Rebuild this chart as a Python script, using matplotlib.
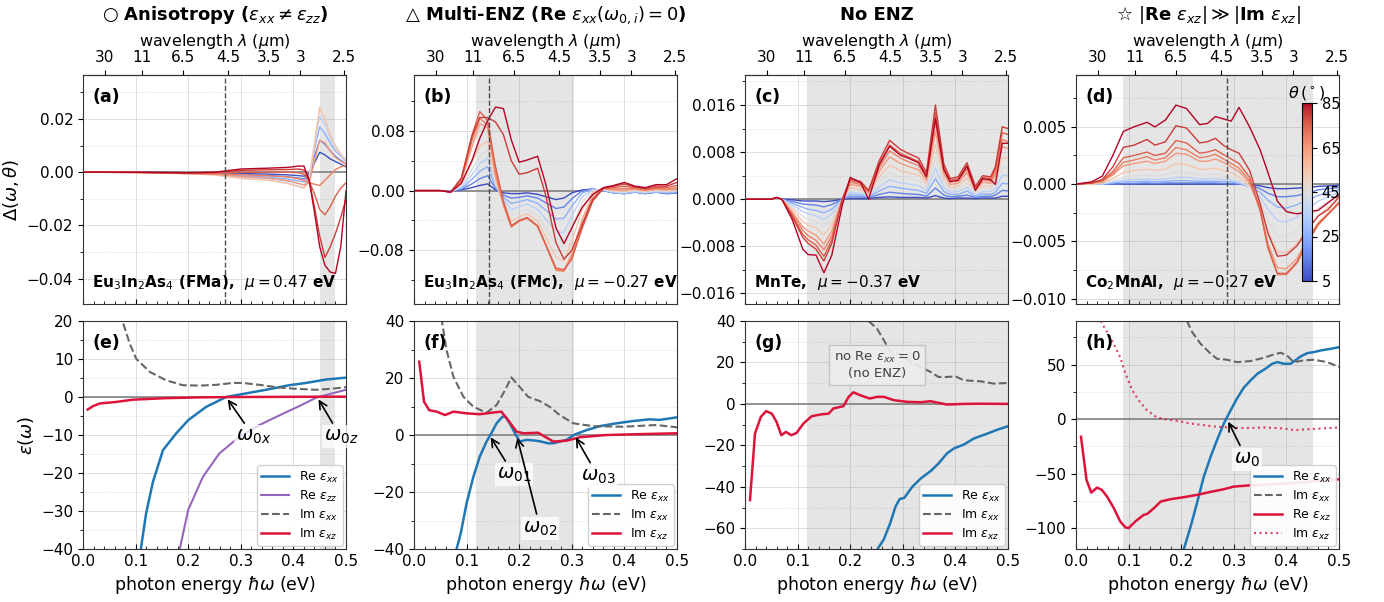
import numpy as np
import matplotlib
matplotlib.use("Agg")
import matplotlib.pyplot as plt
from matplotlib.ticker import AutoMinorLocator
from matplotlib import colors

HC = 1.23984  # eV * um, energy <-> wavelength

# ---------------- data ----------------
theta = [5, 15, 25, 35, 45, 55, 65, 70, 75, 80, 85]
lam_ticks = [30, 11, 6.5, 4.5, 3.5, 3, 2.5]

# Delta(omega, theta) in units of 1e-3, one row per theta
E_a = [0.0, 0.1, 0.2, 0.25, 0.3, 0.35, 0.39, 0.41, 0.42, 0.43, 0.44, 0.45, 0.46, 0.47, 0.48, 0.49, 0.5]
delta_a = [
    [0, 0, -0.2, -0.3, -0.5, -0.7, -1.0, -1.3, -1.5, -0.5, 3.5, 7.5, 6.5, 5.0, 4.0, 3.0, 2.0],
    [0, 0, -0.3, -0.5, -0.9, -1.2, -1.7, -2.2, -2.5, -1.0, 6.0, 12.0, 10.5, 8.0, 6.0, 4.5, 3.0],
    [0, 0, -0.4, -0.7, -1.4, -1.8, -2.6, -3.3, -3.6, -1.5, 8.5, 17.0, 14.5, 11.0, 8.0, 6.0, 4.0],
    [0, -0.1, -0.5, -0.9, -1.9, -2.4, -3.4, -4.3, -4.8, -2.0, 10.0, 21.0, 18.0, 13.0, 9.5, 7.0, 4.5],
    [0, -0.1, -0.6, -1.0, -2.3, -2.9, -4.1, -5.2, -5.8, -2.5, 11.0, 24.0, 20.0, 14.5, 10.0, 7.0, 4.5],
    [0, -0.1, -0.6, -1.0, -2.3, -3.0, -4.3, -5.5, -6.0, -3.5, 10.0, 24.5, 20.0, 14.0, 9.5, 6.5, 4.0],
    [0, -0.1, -0.5, -0.8, -1.6, -2.2, -3.2, -4.2, -4.8, -4.0, 4.0, 12.0, 11.0, 8.0, 5.5, 4.0, 3.0],
    [0, -0.1, -0.5, -0.6, -0.9, -1.3, -1.8, -2.5, -3.0, -4.0, -4.5, -5.0, -3.0, -1.0, 1.0, 2.0, 2.5],
    [0, -0.1, -0.4, -0.3, 0.0, 0.0, 0.0, -0.2, -0.8, -3.5, -8.0, -14.0, -16.0, -13.0, -9.0, -6.0, -4.0],
    [0, 0, -0.3, -0.1, 0.7, 0.9, 1.0, 1.2, 0.8, -3.0, -13.0, -24.0, -32.0, -28.0, -23.0, -17.0, -10.0],
    [0, 0, -0.2, 0.0, 1.2, 1.5, 1.8, 2.3, 2.3, -3.0, -15.0, -28.0, -35.0, -37.5, -38.0, -28.0, -7.0],
]

E_b = [0.0, 0.05, 0.07, 0.09, 0.11, 0.125, 0.14, 0.155, 0.17, 0.185, 0.2, 0.215, 0.235, 0.25,
       0.27, 0.285, 0.3, 0.32, 0.34, 0.36, 0.38, 0.4, 0.42, 0.44, 0.46, 0.48, 0.5]
delta_b = [
    [0, 0, -1, 1, 4, 7, 9, 1, -3, -4, -4, -3, -5, -8, -12, -10, -3, 1, 2, 0, -3, -4, -2, -4, -2, -4, -3],
    [0, 0, -1, 2, 9, 16, 20, 3, -6, -10, -9, -7, -10, -16, -24, -22, -11, 0, 2, 0, -3, -4, -2, -4, -2, -4, -3],
    [0, 0, -1, 3, 15, 26, 32, 5, -9, -17, -15, -12, -17, -26, -38, -37, -21, -3, 2, 0, -3, -4, -2, -3, -2, -3, -2],
    [0, 0, -2, 5, 21, 36, 44, 8, -12, -25, -22, -18, -25, -38, -55, -56, -34, -8, 1, 1, -2, -3, -1, -3, -1, -2, -1],
    [0, 0, -2, 7, 28, 46, 55, 10, -15, -33, -29, -25, -33, -50, -72, -75, -50, -15, 0, 1, -1, -2, 0, -2, 0, -1, 0],
    [0, 0, -2, 9, 38, 60, 66, 14, -18, -41, -35, -31, -41, -61, -89, -94, -68, -25, -2, 2, 0, -1, 1, -1, 1, 0, 1],
    [0, 0, -2, 13, 58, 90, 84, 20, -20, -48, -41, -37, -48, -71, -105, -107, -85, -38, -6, 3, 1, 1, 2, 0, 2, 1, 2],
    [0, 0, -2, 15, 66, 97, 88, 25, -18, -49, -41, -37, -48, -72, -107, -108, -90, -45, -10, 3, 2, 3, 3, 1, 3, 2, 4],
    [0, 0, -2, 17, 74, 106, 94, 32, -14, -47, -40, -36, -47, -72, -104, -106, -92, -50, -14, 3, 4, 6, 4, 2, 4, 4, 7],
    [0, 0, -2, 16, 72, 98, 98, 92, 75, 40, 22, 24, 30, -5, -70, -92, -80, -45, -12, 3, 6, 9, 5, 3, 6, 6, 11],
    [0, 0, -2, 10, 40, 70, 94, 112, 110, 68, 38, 41, 46, 10, -50, -71, -50, -22, -5, 4, 7, 11, 6, 4, 8, 8, 16],
]

E_c = [0.0, 0.05, 0.06, 0.07, 0.09, 0.11, 0.12, 0.135, 0.15, 0.165, 0.185, 0.2, 0.22, 0.235, 0.255,
       0.275, 0.295, 0.31, 0.33, 0.345, 0.362, 0.378, 0.39, 0.405, 0.422, 0.438, 0.452, 0.467, 0.476, 0.489, 0.5]
delta_c = [
    [0, 0, 0, 0, -0.1, -0.3, -0.3, -0.3, -0.4, -0.3, 0, 0.1, 0.1, 0.1, 0.3, 0.4, 0.3, 0.3, 0.3, 0.2, 0.6, 0.2, 0.1, 0.2, 0.2, 0.1, 0.2, 0.2, 0.2, 0.5, 0.5],
    [0, 0, 0, 0, -0.4, -0.8, -0.9, -1.0, -1.3, -0.9, 0, 0.4, 0.4, 0.2, 0.8, 1.2, 1.0, 0.9, 0.8, 0.5, 1.9, 0.7, 0.4, 0.5, 0.7, 0.3, 0.5, 0.5, 0.7, 1.5, 1.4],
    [0, 0, 0.1, 0, -0.7, -1.4, -1.7, -1.9, -2.3, -1.7, 0, 0.8, 0.7, 0.3, 1.4, 2.2, 1.9, 1.7, 1.5, 1.0, 3.5, 1.3, 0.8, 0.8, 1.4, 0.5, 0.9, 0.8, 1.2, 2.7, 2.6],
    [0, 0, 0.1, 0, -1.0, -2.1, -2.5, -2.8, -3.5, -2.5, 0, 1.2, 1.0, 0.5, 2.1, 3.3, 2.8, 2.6, 2.3, 1.5, 5.3, 2.0, 1.2, 1.3, 2.0, 0.7, 1.3, 1.3, 1.8, 4.1, 4.0],
    [0, 0, 0.1, 0, -1.4, -2.9, -3.4, -3.8, -4.7, -3.4, 0, 1.6, 1.4, 0.7, 2.9, 4.5, 3.8, 3.5, 3.2, 2.0, 7.2, 2.7, 1.6, 1.7, 2.8, 1.0, 1.8, 1.7, 2.5, 5.5, 5.4],
    [0, 0, 0.2, 0, -1.7, -3.8, -4.4, -4.9, -6.1, -4.4, 0, 2.0, 1.7, 0.9, 3.8, 5.8, 4.9, 4.5, 4.1, 2.6, 9.3, 3.5, 2.0, 2.2, 3.6, 1.3, 2.3, 2.2, 3.2, 7.1, 7.0],
    [0, 0, 0.2, 0, -2.2, -4.7, -5.4, -6.1, -7.6, -5.4, 0, 2.5, 2.2, 1.1, 4.7, 7.2, 6.1, 5.6, 5.0, 3.2, 11.5, 4.3, 2.5, 2.7, 4.5, 1.6, 2.9, 2.7, 4.0, 8.9, 8.6],
    [0, 0, 0.2, 0, -2.5, -5.3, -6.2, -7.0, -8.6, -6.2, 0, 2.9, 2.5, 1.2, 5.3, 8.2, 7.0, 6.4, 5.7, 3.7, 13.1, 4.9, 2.9, 3.1, 5.1, 1.8, 3.3, 3.1, 4.5, 10.1, 9.8],
    [0, 0, 0.3, 0, -2.8, -6.0, -6.9, -7.8, -9.7, -6.9, 0, 3.2, 2.8, 1.4, 6.0, 9.2, 7.8, 7.2, 6.4, 4.1, 14.7, 5.5, 3.2, 3.5, 5.7, 2.0, 3.7, 3.5, 5.1, 11.3, 11.0],
    [0, 0, 0.3, 0, -3.0, -6.5, -7.5, -8.5, -10.5, -7.5, 0, 3.5, 3.0, 1.5, 6.5, 10.0, 8.5, 7.8, 7.0, 4.5, 16.0, 6.0, 3.5, 3.8, 6.2, 2.2, 4.0, 3.8, 5.5, 12.3, 12.0],
    [0, 0, 0.3, 0, -3.5, -8.5, -9.4, -9.5, -12.5, -9.5, -1.0, 3.7, 2.8, 0, 5.8, 9.0, 7.5, 7.0, 6.2, 3.8, 13.7, 5.0, 3.0, 3.2, 5.6, 1.5, 3.5, 3.3, 2.5, 9.5, 9.5],
]

E_d = [0.0, 0.03, 0.05, 0.07, 0.09, 0.11, 0.135, 0.15, 0.17, 0.19, 0.21, 0.235, 0.25, 0.265,
       0.28, 0.295, 0.31, 0.33, 0.35, 0.365, 0.383, 0.4, 0.42, 0.44, 0.46, 0.48, 0.5]
delta_d = [
    [0, 0, 0, 0, 0, 0, 0, 0, 0, 0, 0, 0, 0, 0, 0, 0, 0, -0.05, -0.15, -0.3, -0.4, -0.4, -0.35, -0.3, -0.2, -0.15, -0.1],
    [0, 0, 0, 0, 0.05, 0.05, 0.1, 0.05, 0.1, 0.1, 0.1, 0.1, 0.1, 0.1, 0.05, 0.05, 0, -0.1, -0.4, -0.8, -1.1, -1.1, -1.0, -0.8, -0.5, -0.4, -0.3],
    [0, 0, 0, 0.1, 0.2, 0.2, 0.25, 0.2, 0.25, 0.3, 0.3, 0.25, 0.25, 0.25, 0.2, 0.2, 0.05, -0.2, -0.7, -1.4, -2.0, -2.1, -1.8, -1.4, -1.0, -0.7, -0.5],
    [0, 0, 0, 0.2, 0.35, 0.4, 0.45, 0.4, 0.45, 0.6, 0.6, 0.45, 0.45, 0.5, 0.4, 0.35, 0.15, -0.2, -1.1, -2.2, -3.2, -3.3, -2.9, -2.2, -1.5, -1.1, -0.7],
    [0, 0, 0.1, 0.3, 0.6, 0.7, 0.8, 0.7, 0.8, 1.1, 1.0, 0.8, 0.8, 0.9, 0.7, 0.6, 0.3, -0.2, -1.5, -3.2, -4.5, -4.6, -4.0, -3.0, -2.1, -1.5, -1.0],
    [0, 0, 0.1, 0.5, 1.0, 1.2, 1.3, 1.2, 1.3, 1.8, 1.7, 1.3, 1.3, 1.4, 1.2, 1.0, 0.6, -0.1, -1.9, -4.2, -5.9, -6.0, -5.2, -3.9, -2.8, -2.0, -1.3],
    [0, 0.1, 0.2, 0.8, 1.6, 1.8, 2.0, 1.8, 2.0, 2.7, 2.6, 2.0, 2.0, 2.2, 1.9, 1.5, 1.1, 0.1, -2.2, -5.2, -7.3, -7.4, -6.5, -4.8, -3.4, -2.5, -1.6],
    [0, 0.1, 0.3, 0.9, 1.9, 2.1, 2.4, 2.1, 2.3, 3.2, 3.0, 2.3, 2.4, 2.6, 2.2, 1.8, 1.4, 0.3, -2.3, -5.6, -7.9, -7.9, -6.9, -5.1, -3.6, -2.6, -1.7],
    [0, 0.1, 0.3, 1.1, 2.3, 2.5, 2.8, 2.5, 2.7, 3.8, 3.6, 2.7, 2.8, 3.0, 2.6, 2.2, 1.8, 0.6, -2.2, -5.5, -7.8, -7.8, -6.8, -5.0, -3.5, -2.6, -1.6],
    [0, 0.1, 0.4, 1.5, 3.2, 3.4, 3.9, 3.4, 3.7, 5.1, 4.9, 3.6, 3.7, 4.0, 3.4, 3.0, 2.7, 1.2, -1.7, -4.3, -6.3, -6.2, -5.4, -4.0, -2.8, -2.2, -1.1],
    [0, 0.2, 0.7, 2.5, 4.6, 5.0, 5.4, 5.0, 5.6, 6.9, 6.6, 5.2, 5.3, 5.9, 5.7, 5.5, 6.7, 5.0, 3.0, 1.0, -1.5, -2.4, -2.6, -2.4, -2.3, -1.6, -0.9],
]

# dielectric functions, panel (e)
e_rexx_E = [0.105, 0.11, 0.12, 0.133, 0.152, 0.177, 0.2, 0.234, 0.272, 0.316, 0.348, 0.392, 0.424, 0.462, 0.5]
e_rexx = [-47, -40, -30.6, -22.3, -14.0, -9.6, -6.1, -2.6, 0, 1.1, 1.9, 3.1, 3.7, 4.6, 5.1]
e_rezz_E = [0.178, 0.184, 0.2, 0.228, 0.259, 0.297, 0.335, 0.38, 0.411, 0.443, 0.475, 0.5]
e_rezz = [-47, -40, -29.7, -21.0, -14.9, -10.5, -7.4, -4.4, -2.4, -0.2, 1.0, 1.9]
e_imxx_E = [0.068, 0.075, 0.089, 0.101, 0.127, 0.158, 0.19, 0.222, 0.253, 0.285, 0.304, 0.335, 0.367, 0.399, 0.443, 0.475, 0.5]
e_imxx = [25, 20, 14, 10.1, 6.6, 4.4, 3.1, 3.0, 3.2, 3.7, 3.7, 3.2, 2.6, 2.2, 1.9, 2.2, 2.6]
e_imxz_E = [0.009, 0.019, 0.032, 0.063, 0.095, 0.158, 0.22, 0.3, 0.4, 0.5]
e_imxz = [-3.3, -2.4, -1.7, -1.3, -0.7, -0.3, -0.1, 0.0, 0.05, 0.1]

# panel (f)
f_rexx_E = [0.078, 0.081, 0.089, 0.1, 0.113, 0.125, 0.138, 0.147, 0.157, 0.168, 0.174, 0.182, 0.192, 0.201,
            0.214, 0.227, 0.239, 0.255, 0.265, 0.277, 0.29, 0.306, 0.328, 0.353, 0.385, 0.416, 0.448, 0.467, 0.5]
f_rexx = [-45, -40, -34.4, -23.9, -14.6, -7.6, -2.3, 0.6, 4.1, 6.4, 6.4, 4.1, 0.6, -2.3,
          -1.7, -1.9, -2.2, -2.9, -2.9, -2.3, -1.7, 0.2, 1.7, 3.1, 4.1, 4.9, 5.5, 5.3, 6.2]
f_imxx_E = [0.05, 0.053, 0.062, 0.075, 0.094, 0.113, 0.138, 0.157, 0.173, 0.185, 0.198, 0.217, 0.239,
            0.258, 0.277, 0.303, 0.341, 0.397, 0.461, 0.5]
f_imxx = [45, 40, 29.7, 20.4, 13.4, 9.9, 7.8, 10.5, 15.7, 20.2, 17.5, 13.4, 11.9, 9.9, 7.0, 4.1, 3.1, 2.9, 3.5, 2.7]
f_imxz_E = [0.01, 0.019, 0.029, 0.043, 0.059, 0.075, 0.1, 0.125, 0.151, 0.166, 0.179, 0.195, 0.208,
            0.236, 0.249, 0.265, 0.29, 0.315, 0.366, 0.429, 0.5]
f_imxz = [25.7, 11.7, 8.7, 8.2, 7.0, 8.2, 7.6, 7.3, 7.9, 8.2, 5.2, 1.2, 0.6, 0.8, -0.6, -2.3, -2.0, -0.8, 0.0, 0.3, 0.6]

# panel (g)
g_imxz_E = [0.0095, 0.019, 0.03, 0.04, 0.051, 0.06, 0.069, 0.078, 0.088, 0.098, 0.111, 0.127, 0.146, 0.159,
            0.168, 0.187, 0.197, 0.206, 0.219, 0.237, 0.251, 0.264, 0.283, 0.308, 0.334, 0.353, 0.368,
            0.384, 0.416, 0.448, 0.5]
g_imxz = [-46.4, -14.3, -6.3, -3.5, -4.7, -8.7, -15.1, -13.5, -15.1, -14.0, -9.5, -5.9, -5.0, -4.7,
          -2.2, -1.1, 3.4, 5.6, 4.2, 2.6, 3.4, 3.4, 1.8, 1.0, 0.8, 1.3, 0.5, -0.3, 0.0, 0.1, 0.0]
g_imxx_E = [0.228, 0.235, 0.251, 0.264, 0.273, 0.283, 0.295, 0.314, 0.334, 0.353, 0.368, 0.384, 0.4,
            0.416, 0.448, 0.473, 0.5]
g_imxx = [45, 40, 36.3, 30.7, 26.6, 24.2, 24.2, 20.2, 17.8, 15.4, 13.0, 13.0, 13.3, 11.4, 10.9, 9.8, 10.1]
g_rexx_E = [0.248, 0.252, 0.264, 0.276, 0.286, 0.294, 0.303, 0.318, 0.334, 0.353, 0.368, 0.384, 0.397,
            0.416, 0.435, 0.461, 0.48, 0.5]
g_rexx = [-75, -70, -65.3, -57.6, -49.6, -45.9, -45.3, -40.0, -36.0, -32.4, -28.7, -23.9, -21.5,
          -19.6, -16.7, -14.3, -12.4, -10.8]

# panel (h)
h_rexx_E = [0.2, 0.205, 0.218, 0.23, 0.243, 0.256, 0.268, 0.281, 0.294, 0.306, 0.319, 0.332, 0.345,
            0.36, 0.373, 0.383, 0.395, 0.408, 0.417, 0.427, 0.44, 0.452, 0.465, 0.484, 0.5]
h_rexx = [-135, -119, -98.3, -77.0, -52.6, -34.4, -19.2, -4.0, 8.2, 18.9, 28.9, 35.6, 41.7,
          46.2, 50.8, 52.3, 50.8, 50.8, 53.9, 57.5, 60.6, 61.5, 63.0, 64.5, 66.0]
h_imxx_E = [0.205, 0.211, 0.221, 0.237, 0.256, 0.268, 0.287, 0.306, 0.332, 0.357, 0.376, 0.389,
            0.401, 0.414, 0.433, 0.452, 0.478, 0.5]
h_imxx = [100, 90, 79.7, 69.0, 60.0, 55.4, 54.5, 52.3, 53.3, 56.3, 59.3, 60.9, 58.4, 52.3, 53.9, 54.5, 52.3, 47.8]
h_rexz_E = [0.0095, 0.02, 0.029, 0.04, 0.049, 0.059, 0.072, 0.084, 0.094, 0.1, 0.113, 0.129, 0.135,
            0.148, 0.161, 0.18, 0.205, 0.23, 0.256, 0.281, 0.3, 0.332, 0.357, 0.383, 0.414, 0.446, 0.478, 0.5]
h_rexz = [-16.1, -55.7, -67.3, -62.7, -64.8, -70.9, -81.6, -93.7, -99.2, -99.8, -93.7, -87.6, -87.0,
          -81.6, -75.5, -73.3, -71.5, -69.4, -66.6, -64.2, -61.8, -60.6, -60.3, -59.3, -58.7, -57.2, -55.7, -55.1]
h_imxz_E = [0.045, 0.049, 0.065, 0.084, 0.094, 0.107, 0.119, 0.135, 0.154, 0.173, 0.192, 0.218, 0.243,
            0.268, 0.294, 0.319, 0.357, 0.395, 0.414, 0.446, 0.478, 0.5]
h_imxz = [95, 88, 75.2, 56.9, 41.7, 26.5, 17.3, 8.2, 1.5, -0.3, -1.5, -4.0, -5.5, -7.0, -7.6, -8.2,
          -7.6, -8.5, -10.0, -9.1, -8.2, -7.6]

# ---------------- styling ----------------
C_BLUE = '#1f77b4'
C_PURP = '#9467bd'
C_GREY = '0.4'
C_RED = '#dc143c'
cmap = plt.get_cmap('coolwarm')
norm = colors.Normalize(vmin=5, vmax=85)

plt.rcParams['font.family'] = ['DejaVu Sans']
plt.rcParams['mathtext.fontset'] = 'dejavusans'

W, H = 1384, 602
fig = plt.figure(figsize=(W / 100, H / 100), dpi=100)


def rect(x0, y0, x1, y1):
    return [x0 / W, 1 - y1 / H, (x1 - x0) / W, (y1 - y0) / H]


lefts = [83, 414, 745, 1076]
top_axes = [fig.add_axes(rect(l, 75, l + 263, 304)) for l in lefts]
bot_axes = [fig.add_axes(rect(l, 321, l + 263, 549)) for l in lefts]


def style(ax):
    ax.set_xlim(0, 0.5)
    ax.xaxis.set_minor_locator(AutoMinorLocator(5))
    ax.yaxis.set_minor_locator(AutoMinorLocator(2))
    ax.tick_params(axis='x', which='both', direction='in', labelsize=11)
    ax.tick_params(axis='y', which='both', direction='out', labelsize=11)
    ax.grid(True, which='major', color='0.85', lw=0.6, ls='-')
    ax.grid(True, which='minor', axis='y', color='0.85', lw=0.6, ls=':')
    ax.set_axisbelow(True)
    for s in ax.spines.values():
        s.set_color('0.2')


# ---------------- top row: Delta(omega, theta) ----------------
top_specs = [
    (E_a, delta_a, (-0.0495, 0.0365), [-0.04, -0.02, 0.0, 0.02], (0.45, 0.48), 0.27, '(a)',
     r'Eu$_3$In$_2$As$_4$ (FMa),  $\mu=0.47$ eV'),
    (E_b, delta_b, (-0.152, 0.155), [-0.08, 0.0, 0.08], (0.118, 0.304), 0.142, '(b)',
     r'Eu$_3$In$_2$As$_4$ (FMc),  $\mu=-0.27$ eV'),
    (E_c, delta_c, (-0.0178, 0.0211), [-0.016, -0.008, 0.0, 0.008, 0.016], (0.118, 0.5), None, '(c)',
     r'MnTe,  $\mu=-0.37$ eV'),
    (E_d, delta_d, (-0.01047, 0.00953), [-0.01, -0.005, 0.0, 0.005], (0.0888, 0.4505), 0.287, '(d)',
     r'Co$_2$MnAl,  $\mu=-0.27$ eV'),
]

for ax, (E, rows, ylim, yt, shade, vline, lab, mat) in zip(top_axes, top_specs):
    style(ax)
    ax.axvspan(shade[0], shade[1], color='0.5', alpha=0.2, lw=0)
    ax.axhline(0, color='0.5', lw=1.3, alpha=0.9)
    for th, r in zip(theta, rows):
        ax.plot(E, np.array(r) * 1e-3, color=cmap(norm(th)), lw=1.0)
    if vline is not None:
        ax.axvline(vline, color='0.3', ls='--', lw=1.0)
    ax.set_ylim(*ylim)
    ax.set_yticks(yt)
    ax.tick_params(axis='x', labelbottom=False)
    ax.text(0.035, 0.905, lab, transform=ax.transAxes, fontsize=12.5, fontweight='bold', va='center')
    ax.text(0.035, 0.095, mat, transform=ax.transAxes, fontsize=11, fontweight='bold', va='center')
    sec = ax.secondary_xaxis('top')
    sec.set_xticks([HC / l for l in lam_ticks], labels=[f'{l:g}' for l in lam_ticks])
    sec.tick_params(direction='out', labelsize=11)
    sec.set_xlabel(r'wavelength $\lambda$ ($\mu$m)', fontsize=11.5, labelpad=3)

top_axes[0].set_ylabel(r'$\Delta(\omega,\theta)$', fontsize=13)

# colourbar inside panel (d)
sm = plt.cm.ScalarMappable(norm=norm, cmap=cmap)
cax = fig.add_axes(rect(1302, 103, 1312, 281))
cb = fig.colorbar(sm, cax=cax, ticks=[5, 25, 45, 65, 85])
cb.ax.tick_params(labelsize=10.5)
cb.ax.set_title(r'$\theta\,(^\circ)$', fontsize=11.5, pad=4)

# ---------------- bottom row: epsilon(omega) ----------------
lbl = {
    'rexx': r'Re $\varepsilon_{xx}$', 'rezz': r'Re $\varepsilon_{zz}$',
    'imxx': r'Im $\varepsilon_{xx}$', 'imxz': r'Im $\varepsilon_{xz}$', 'rexz': r'Re $\varepsilon_{xz}$',
}
bshade = [(0.45, 0.48), (0.118, 0.304), (0.118, 0.5), (0.0888, 0.4505)]
bylim = [(-40, 20), (-40, 40), (-70, 40), (-119, 90)]
byt = [[-40, -30, -20, -10, 0, 10, 20], [-40, -20, 0, 20, 40], [-60, -40, -20, 0, 20, 40], [-100, -50, 0, 50]]

for ax, sh, yl, yt, lab in zip(bot_axes, bshade, bylim, byt, ['(e)', '(f)', '(g)', '(h)']):
    style(ax)
    ax.axvspan(sh[0], sh[1], color='0.5', alpha=0.2, lw=0)
    ax.axhline(0, color='0.5', lw=1.3, alpha=0.9)
    ax.set_ylim(*yl)
    ax.set_yticks(yt)
    ax.set_xticks([0.0, 0.1, 0.2, 0.3, 0.4, 0.5])
    ax.set_xlabel(r'photon energy $\hbar\omega$ (eV)', fontsize=12.5)
    ax.text(0.035, 0.905, lab, transform=ax.transAxes, fontsize=12.5, fontweight='bold', va='center')

ax_e, ax_f, ax_g, ax_h = bot_axes
ax_e.set_ylabel(r'$\varepsilon(\omega)$', fontsize=13)

ax_e.plot(e_rexx_E, e_rexx, color=C_BLUE, lw=1.8, label=lbl['rexx'])
ax_e.plot(e_rezz_E, e_rezz, color=C_PURP, lw=1.5, label=lbl['rezz'])
ax_e.plot(e_imxx_E, e_imxx, color=C_GREY, lw=1.5, ls='--', label=lbl['imxx'])
ax_e.plot(e_imxz_E, e_imxz, color=C_RED, lw=1.8, label=lbl['imxz'])

ax_f.plot(f_rexx_E, f_rexx, color=C_BLUE, lw=1.8, label=lbl['rexx'])
ax_f.plot(f_imxx_E, f_imxx, color=C_GREY, lw=1.5, ls='--', label=lbl['imxx'])
ax_f.plot(f_imxz_E, f_imxz, color=C_RED, lw=1.8, label=lbl['imxz'])

ax_g.plot(g_rexx_E, g_rexx, color=C_BLUE, lw=1.8, label=lbl['rexx'])
ax_g.plot(g_imxx_E, g_imxx, color=C_GREY, lw=1.5, ls='--', label=lbl['imxx'])
ax_g.plot(g_imxz_E, g_imxz, color=C_RED, lw=1.8, label=lbl['imxz'])

ax_h.plot(h_rexx_E, h_rexx, color=C_BLUE, lw=1.8, label=lbl['rexx'])
ax_h.plot(h_imxx_E, h_imxx, color=C_GREY, lw=1.5, ls='--', label=lbl['imxx'])
ax_h.plot(h_rexz_E, h_rexz, color=C_RED, lw=1.8, label=lbl['rexz'])
ax_h.plot(h_imxz_E, h_imxz, color=C_RED, lw=1.5, ls=':', alpha=0.8, label=lbl['imxz'])

for ax in bot_axes:
    ax.legend(loc='lower right', fontsize=9, framealpha=0.9, handlelength=2.2,
              labelspacing=0.3, borderpad=0.35, borderaxespad=0.25)

# ENZ arrows
arrow = dict(arrowstyle='->', color='black', lw=1.2)
box = dict(boxstyle='square,pad=0.1', fc='white', ec='none', alpha=0.75)


def mark(ax, txt, xy, xytext):
    ax.annotate(txt, xy=xy, xytext=xytext, fontsize=14, ha='center', va='center',
                arrowprops=arrow, bbox=box, zorder=10)


mark(ax_e, r'$\omega_{0x}$', (0.272, 0), (0.325, -10.5))
mark(ax_e, r'$\omega_{0z}$', (0.445, 0), (0.49, -10.5))
mark(ax_f, r'$\omega_{01}$', (0.143, 0), (0.19, -14))
mark(ax_f, r'$\omega_{02}$', (0.195, 0), (0.24, -32.7))
mark(ax_f, r'$\omega_{03}$', (0.305, 0), (0.35, -14.6))
mark(ax_h, r'$\omega_0$', (0.287, 0), (0.325, -36.8))

ax_g.text(0.251, 18.6, 'no Re $\\varepsilon_{xx}=0$\n(no ENZ)', fontsize=9.5, ha='center', va='center',
          color='0.25', bbox=dict(boxstyle='square,pad=0.35', fc='0.93', ec='0.75', alpha=0.9))

# ---------------- column titles ----------------
titles = [
    r'○ Anisotropy ($\varepsilon_{xx} \neq \varepsilon_{zz}$)',
    r'△ Multi-ENZ (Re $\varepsilon_{xx}(\omega_{0,i}) = 0$)',
    'No ENZ',
    r'☆ $|$Re $\varepsilon_{xz}|\gg|$Im $\varepsilon_{xz}|$',
]
for l, t in zip(lefts, titles):
    fig.text((l + 132) / W, 1 - 15 / H, t, fontsize=13, fontweight='bold', ha='center', va='center')

fig.savefig('out.png', dpi=100)
